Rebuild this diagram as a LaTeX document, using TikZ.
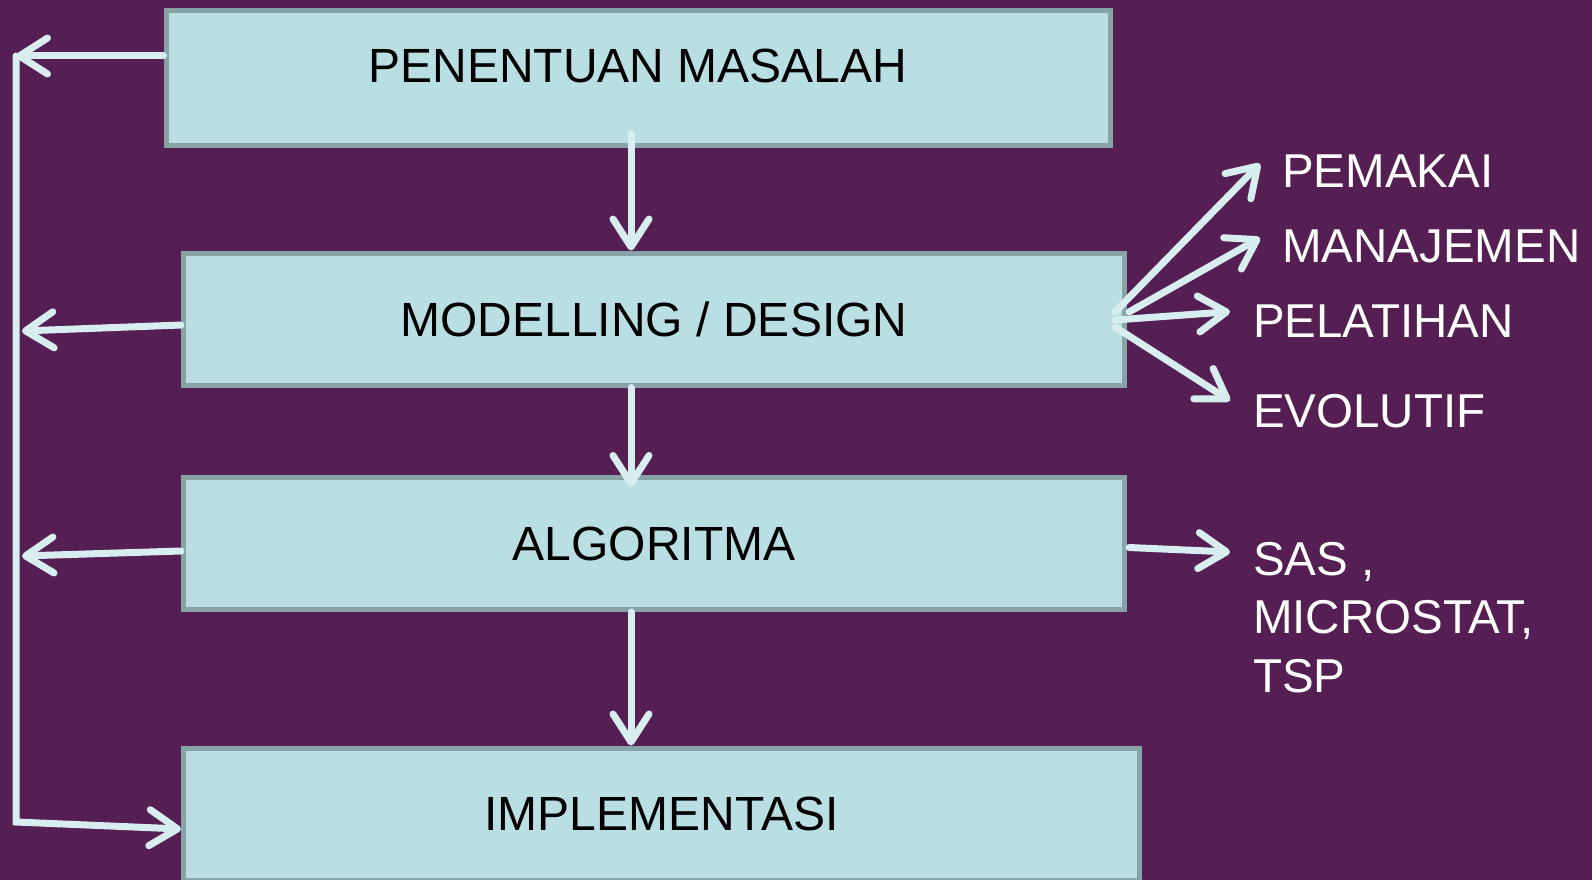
\documentclass[tikz,border=0pt]{standalone}
\usepackage{fontspec}
\setmainfont{Liberation Sans}
\usepackage{xcolor}
\usepackage{tikz}
\usetikzlibrary{calc,arrows.meta}
\definecolor{bg}{HTML}{551F53}
\definecolor{boxfill}{HTML}{B9DFE3}
\definecolor{boxline}{HTML}{86A3A6}
\definecolor{link}{HTML}{D8EDF0}
\definecolor{text}{HTML}{FFFFFF}
\tikzset{
  box/.style={draw=boxline, fill=boxfill, line width=5pt, inner sep=0pt,
    minimum height=132pt, text=black, font=\fontsize{48}{56}\selectfont},
  conn/.style={draw=link, line width=7pt, line cap=round, line join=miter,
    -{Straight Barb[length=28pt, width=36pt, round]}},
  lab/.style={text=text, inner sep=0pt, font=\fontsize{47.5}{58.5}\selectfont},
}

\begin{document}
\begin{tikzpicture}[x=1pt, y=-1pt]
  \useasboundingbox[fill=bg] (0,0) rectangle (1592,880);

  \node[box, minimum width=944pt, minimum height=134pt,
    label={[font=\fontsize{48}{56}\selectfont, yshift=12pt]center:PENENTUAN MASALAH}]
    (masalah) at (638,78) {};
  \node[box, minimum width=941pt] (modelling) at (654,319) {MODELLING / DESIGN};
  \node[box, minimum width=941pt] (algoritma) at (654,543.5) {ALGORITMA};
  \node[box, minimum width=956pt] (impl) at (661.5,814) {IMPLEMENTASI};

  \node[lab, anchor=base west] (pemakai) at (1282,187) {PEMAKAI};
  \node[lab, anchor=base west] (manajemen) at (1282,262) {MANAJEMEN};
  \node[lab, anchor=base west] (pelatihan) at (1253,337) {PELATIHAN};
  \node[lab, anchor=base west] (evolutif) at (1253,427) {EVOLUTIF};
  \node[lab, anchor=north west, align=left] (paket) at (1253,542) {SAS ,\\MICROSTAT,\\TSP};

  % down arrows
  \coordinate (d1) at ($(masalah.south)+(-7,-14)$);
  \draw[conn] (d1) -- (d1 |- modelling.north);
  \draw[conn] (d1 |- modelling.south) -- ($(d1 |- algoritma.north)+(0,12)$);
  \draw[conn] (d1 |- algoritma.south) -- (d1 |- impl.north);

  % feedback line
  \coordinate (top) at (16,56);
  \coordinate (bot) at (16,822);
  \draw[conn] ($(masalah.west)+(0,-22)$) -- (top);
  \draw[conn] ($(modelling.west)+(0,6)$) -- ($(top |- modelling.west)+(6,12)$);
  \draw[conn] ($(algoritma.west)+(0,7.5)$) -- ($(top |- algoritma.west)+(6,12.5)$);
  \draw[conn] (top) -- (bot) -- ($(impl.west)+(0,15)$);

  % outputs
  \draw[conn] ($(modelling.east)+(-12,-7)$) -- ($(pemakai.west)+(-22,-7)$);
  \draw[conn] ($(modelling.east)+(2,-7)$) -- ($(manajemen.west)+(-22,-8)$);
  \draw[conn] ($(modelling.east)+(-12,1)$) -- ($(pelatihan.west)+(-23,-9)$);
  \draw[conn] ($(modelling.east)+(-12,8)$) -- ($(evolutif.west)+(-23,-10)$);
  \draw[conn] ($(algoritma.east)+(2,4)$) -- ($(paket.north west)+(-23,10)$);
\end{tikzpicture}
\end{document}
